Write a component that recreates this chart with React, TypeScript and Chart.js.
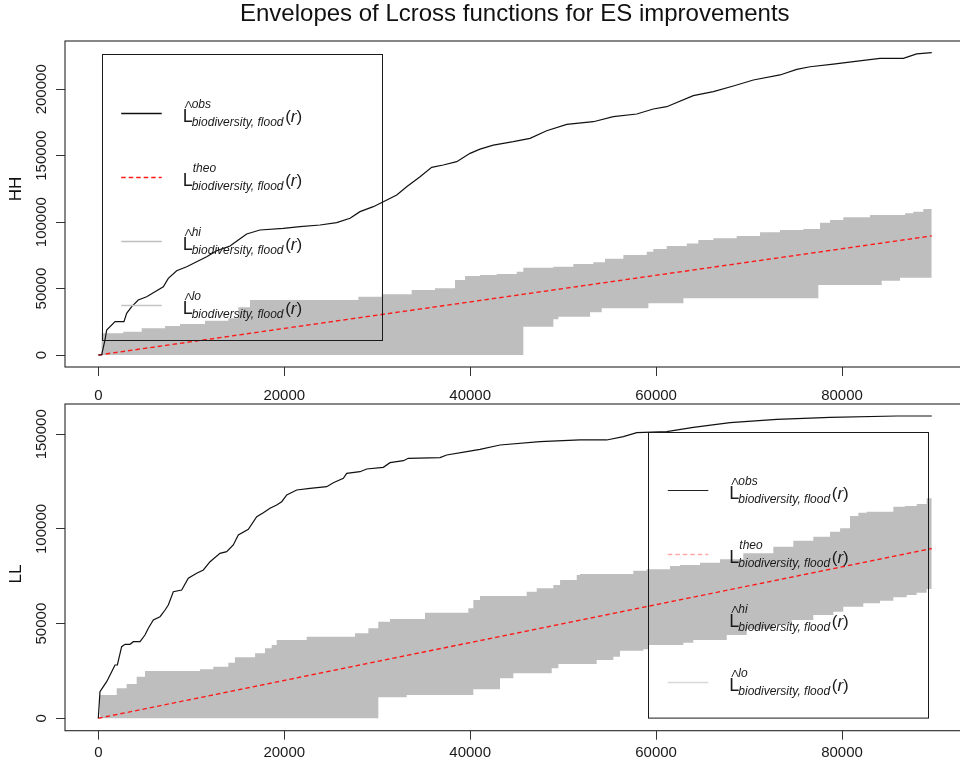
import React, { useEffect, useRef } from 'react';
import { Chart, registerables } from 'chart.js';

Chart.register(...registerables);

const FONT = '"Liberation Sans", Arial, Helvetica, sans-serif';

// ---------- text ----------
const TITLE = 'Envelopes of Lcross functions for ES improvements';
const LEGEND_SUPS = ['obs', 'theo', 'hi', 'lo'];
const LEGEND_HATS = [true, false, true, true];
const LEGEND_SUB = 'biodiversity, flood';

// ---------- ticks ----------
const xTicks = [0, 20000, 40000, 60000, 80000];
const hhYTicks = [0, 50000, 100000, 150000, 200000];
const llYTicks = [0, 50000, 100000, 150000];

// ---------- HH panel ----------
const hhObsR = [0, 360, 720, 900, 1800, 2760, 3050, 3590, 4300, 5200, 6100, 6990, 7530, 8430, 9510, 10580, 11660, 12730, 14170, 15060, 15960, 17390, 19900, 21700, 23850, 25640, 27080, 28150, 29580, 30660, 32100, 33170, 34610, 35860, 37110, 38550, 39990, 41060, 42490, 44640, 46440, 48230, 50390, 53250, 55400, 57920, 59700, 61140, 64000, 66160, 68310, 70460, 73330, 75130, 76560, 79070, 81220, 84090, 86600, 88030, 89650];
const hhObsL = [0, 0, 11300, 18800, 25070, 25070, 31350, 36360, 41400, 43880, 47650, 51400, 57700, 63450, 66470, 70230, 73990, 78500, 82050, 86560, 91080, 94090, 95340, 96600, 97850, 99600, 102900, 107900, 111660, 115400, 120440, 126700, 134200, 141300, 143000, 145500, 151800, 155000, 158000, 160600, 163100, 168800, 173600, 175600, 179400, 181400, 185200, 186900, 195200, 198200, 202500, 207000, 210800, 215000, 217000, 219000, 220800, 223300, 223300, 226600, 227600];
const hhTheoR = [0, 89650];
const hhTheoL = [0, 89650];
const hhHiR = [0, 360, 2690, 4670, 7180, 8790, 11480, 13990, 15060, 16320, 27970, 30490, 33710, 36220, 38370, 39450, 41060, 42850, 45010, 45720, 48950, 51100, 53250, 54500, 56480, 58990, 59700, 61140, 63300, 64540, 66160, 68670, 71180, 73330, 75840, 77630, 78710, 80140, 83010, 86780, 87670, 88750, 89650];
const hhHiL = [0, 16300, 17550, 20070, 21830, 23330, 25830, 27600, 35900, 41400, 43900, 45700, 48900, 50200, 56450, 59470, 60220, 60970, 62700, 65700, 66470, 68500, 69800, 72500, 75300, 77800, 79800, 82050, 84000, 86560, 87800, 89570, 92350, 94100, 94850, 99600, 101600, 103650, 105400, 106650, 107900, 109900, 109900];
const hhLoR = [0, 45720, 48950, 49490, 52900, 54150, 59170, 62940, 77450, 84270, 86240, 89650];
const hhLoL = [0, 21300, 26870, 28830, 32140, 35150, 38900, 42660, 52700, 55900, 58200, 58200];

// ---------- LL panel ----------
const llObsR = [0, 180, 540, 900, 1440, 1800, 2050, 2510, 2870, 3410, 3770, 4490, 5020, 5380, 5920, 6640, 7180, 7530, 8070, 8970, 9680, 10580, 11300, 12020, 13090, 13810, 14520, 15060, 16140, 17040, 17750, 18470, 19190, 19730, 20270, 21340, 22770, 24570, 25280, 26360, 26720, 28150, 28870, 30660, 31380, 32810, 33350, 36760, 37480, 39630, 41060, 43210, 47510, 51820, 54690, 56480, 57920, 61140, 64000, 67960, 72980, 78710, 85890, 89650];
const llObsL = [0, 14050, 16690, 19330, 24610, 28150, 28150, 37820, 39080, 39080, 40460, 40460, 44000, 47540, 51920, 53680, 57200, 59840, 66880, 67760, 73950, 76590, 78330, 82710, 87150, 88000, 91530, 96810, 99820, 106480, 108600, 110920, 112660, 114400, 117940, 120580, 121480, 122330, 124440, 126760, 129400, 130250, 131680, 132570, 135000, 136060, 137320, 137650, 139070, 140810, 142080, 144350, 146100, 147000, 147000, 148740, 150850, 151380, 153700, 156120, 157900, 158970, 159670, 159670];
const llTheoR = [0, 89650];
const llTheoL = [0, 89650];
const llHiR = [0, 180, 1980, 3050, 4130, 5020, 10940, 12370, 13990, 14700, 16860, 17930, 18650, 19190, 22420, 27610, 29050, 30120, 31380, 35140, 39800, 40340, 41060, 46080, 47160, 48950, 49670, 51460, 51820, 57550, 58990, 61500, 62570, 64720, 66880, 69380, 72610, 74760, 76910, 78710, 79790, 80860, 81760, 82660, 85520, 86780, 88030, 89110, 89650];
const llHiL = [0, 12310, 15850, 18120, 21970, 24980, 25880, 27250, 29370, 32200, 34330, 36970, 38720, 41360, 43120, 44890, 47540, 51050, 52450, 55800, 58100, 62480, 64600, 66870, 68660, 70400, 73050, 75690, 76220, 77980, 78700, 80440, 80970, 82200, 83980, 87150, 90640, 93800, 95920, 98560, 100340, 106850, 108600, 109120, 111760, 112130, 113190, 116200, 116200];
const llLoR = [0, 30120, 33170, 40340, 43210, 44640, 48770, 49490, 53610, 55400, 56120, 58630, 59170, 62930, 64000, 67600, 69750, 72610, 74590, 76910, 79070, 80140, 82290, 84090, 85520, 86960, 88030, 89110, 89650];
const llLoL = [0, 11090, 12310, 15320, 21130, 23770, 26410, 28680, 30790, 32540, 35710, 36440, 38720, 39930, 41360, 44000, 47170, 49650, 51920, 54560, 56300, 58940, 60740, 62110, 63910, 65120, 66340, 68290, 68290];

// ---------- helpers ----------
const pts = (rs: number[], ls: number[]) => rs.map((x, i) => ({ x, y: ls[i] }));

type Box = { x: number; y: number; w: number; h: number };

function drawLegend(ctx: CanvasRenderingContext2D, box: Box, colors: string[], widths: number[]) {
  ctx.save();
  ctx.setLineDash([]);
  ctx.strokeStyle = '#1a1a1a';
  ctx.lineWidth = 1;
  ctx.strokeRect(Math.round(box.x) + 0.5, Math.round(box.y) + 0.5, box.w, box.h);
  LEGEND_SUPS.forEach((sup, i) => {
    const L = box.x;
    const Y = Math.round(box.y + 58.5 + 64 * i) + 0.5;
    ctx.beginPath();
    ctx.setLineDash(i === 1 ? [4.5, 3] : []);
    ctx.strokeStyle = colors[i];
    ctx.lineWidth = widths[i];
    ctx.moveTo(L + 19.5, Y);
    ctx.lineTo(L + 60, Y);
    ctx.stroke();
    ctx.setLineDash([]);
    ctx.fillStyle = '#1a1a1a';
    ctx.textAlign = 'left';
    ctx.textBaseline = 'alphabetic';
    ctx.font = `18px ${FONT}`;
    ctx.fillText('L', L + 81, Y + 8);
    if (LEGEND_HATS[i]) {
      ctx.beginPath();
      ctx.strokeStyle = '#1a1a1a';
      ctx.lineWidth = 0.9;
      ctx.moveTo(L + 83.5, Y - 5.5);
      ctx.lineTo(L + 86.8, Y - 12.5);
      ctx.lineTo(L + 90, Y - 5.5);
      ctx.stroke();
    }
    ctx.font = `italic 12px ${FONT}`;
    ctx.fillText(sup, L + (LEGEND_HATS[i] ? 90 : 91), Y - 6);
    ctx.fillText(LEGEND_SUB, L + 90, Y + 12);
    let x = L + 183.5;
    ctx.font = `17px ${FONT}`;
    ctx.fillText('(', x, Y + 8);
    x += ctx.measureText('(').width;
    ctx.font = `italic 17px ${FONT}`;
    ctx.fillText('r', x, Y + 8);
    x += ctx.measureText('r').width;
    ctx.font = `17px ${FONT}`;
    ctx.fillText(')', x, Y + 8);
  });
  ctx.restore();
}

type Spec = {
  label: string;
  labelPos: [number, number];
  obsR: number[]; obsL: number[];
  theoR: number[]; theoL: number[];
  hiR: number[]; hiL: number[];
  loR: number[]; loL: number[];
  yMin: number; yMax: number; yTicks: number[];
  padTop: number; xAxisH: number; xLabelPad: number;
  legendBox: Box; legendColors: string[]; legendWidths: number[];
  showTitle: boolean;
};

const CANVAS_W = 975;
const X_MIN = -3582;
const X_MAX = 93184;
const RIGHT_PAD = 10.4;

function buildConfig(spec: Spec): any {
  const framePlugin = {
    id: 'frame',
    afterDraw(chart: any) {
      const { ctx, chartArea: a } = chart;
      ctx.save();
      ctx.strokeStyle = '#262626';
      ctx.lineWidth = 1.1;
      ctx.strokeRect(a.left, a.top, a.right - a.left, a.bottom - a.top);
      // panel axis title
      ctx.translate(spec.labelPos[0], spec.labelPos[1]);
      ctx.rotate(-Math.PI / 2);
      ctx.fillStyle = '#111';
      ctx.font = `17px ${FONT}`;
      ctx.textAlign = 'center';
      ctx.textBaseline = 'middle';
      ctx.fillText(spec.label, 0, 0);
      ctx.restore();
      drawLegend(ctx, spec.legendBox, spec.legendColors, spec.legendWidths);
    },
  };

  return {
    type: 'line',
    data: {
      datasets: [
        { label: 'obs', data: pts(spec.obsR, spec.obsL), borderColor: '#111', borderWidth: 1.2, pointRadius: 0, fill: false, tension: 0 },
        { label: 'theo', data: pts(spec.theoR, spec.theoL), borderColor: '#ff1a1a', borderWidth: 1.4, borderDash: [4.5, 3], pointRadius: 0, fill: false },
        { label: 'hi', data: pts(spec.hiR, spec.hiL), borderColor: 'rgba(0,0,0,0)', borderWidth: 0, backgroundColor: '#bebebe', fill: '+1', stepped: true, pointRadius: 0 },
        { label: 'lo', data: pts(spec.loR, spec.loL), borderColor: 'rgba(0,0,0,0)', borderWidth: 0, backgroundColor: '#bebebe', fill: false, stepped: true, pointRadius: 0 },
      ],
    },
    options: {
      responsive: false,
      animation: false,
      events: [],
      layout: { padding: { top: spec.padTop, left: 0, right: RIGHT_PAD, bottom: 0 } },
      scales: {
        x: {
          type: 'linear',
          min: X_MIN,
          max: X_MAX,
          bounds: 'data',
          afterBuildTicks: (s: any) => { s.ticks = xTicks.map((v) => ({ value: v })); },
          afterFit: (s: any) => { s.height = spec.xAxisH; s.paddingLeft = 0; s.paddingRight = 0; },
          grid: { display: true, drawOnChartArea: false, drawTicks: true, tickLength: 9, color: '#333', lineWidth: 1 },
          border: { display: false },
          ticks: {
            autoSkip: false, maxRotation: 0, minRotation: 0, padding: spec.xLabelPad,
            color: '#1a1a1a', font: { family: FONT, size: 15 },
            callback: (v: any) => String(v),
          },
        },
        y: {
          type: 'linear',
          min: spec.yMin,
          max: spec.yMax,
          bounds: 'data',
          afterBuildTicks: (s: any) => { s.ticks = spec.yTicks.map((v) => ({ value: v })); },
          afterFit: (s: any) => { s.width = 65; s.paddingTop = 0; s.paddingBottom = 0; },
          grid: { display: true, drawOnChartArea: false, drawTicks: true, tickLength: 9, color: '#333', lineWidth: 1 },
          border: { display: false },
          ticks: {
            autoSkip: false, minRotation: 90, maxRotation: 90, crossAlign: 'center', padding: -10.7,
            color: '#1a1a1a', font: { family: FONT, size: 15 },
            callback: (v: any) => String(v),
          },
        },
      },
      plugins: {
        legend: { display: false },
        tooltip: { enabled: false },
        title: {
          display: spec.showTitle,
          text: TITLE,
          color: '#111',
          position: 'top',
          align: 'center',
          fullSize: false,
          font: { family: FONT, size: 24, weight: 'normal', lineHeight: 1.2 },
          padding: { top: 0.2, bottom: 12 },
        },
      },
    },
    plugins: [framePlugin],
  };
}

const hhSpec: Spec = {
  label: 'HH', labelPos: [16.7, 189],
  obsR: hhObsR, obsL: hhObsL, theoR: hhTheoR, theoL: hhTheoL,
  hiR: hhHiR, hiL: hhHiL, loR: hhLoR, loL: hhLoL,
  yMin: -9030, yMax: 236360, yTicks: hhYTicks,
  padTop: 0, xAxisH: 35, xLabelPad: 11,
  legendBox: { x: 101.7, y: 54, w: 280, h: 286 },
  legendColors: ['#111', '#ff1a1a', '#bebebe', '#c4c4c4'],
  legendWidths: [1.4, 1.5, 1.5, 1.5],
  showTitle: true,
};

const llSpec: Spec = {
  label: 'LL', labelPos: [16, 172],
  obsR: llObsR, obsL: llObsL, theoR: llTheoR, theoL: llTheoL,
  hiR: llHiR, hiL: llHiL, loR: llLoR, loL: llLoL,
  yMin: -6550, yMax: 166000, yTicks: llYTicks,
  padTop: 2, xAxisH: 33.3, xLabelPad: 3.8,
  legendBox: { x: 648.3, y: 29.7, w: 280, h: 285.6 },
  legendColors: ['#222', 'rgba(255,0,0,0.35)', '#bebebe', '#d9d9d9'],
  legendWidths: [1.1, 1.3, 1.3, 1.3],
  showTitle: false,
};

function Panel({ spec, top, height }: { spec: Spec; top: number; height: number }) {
  const ref = useRef<HTMLCanvasElement | null>(null);
  useEffect(() => {
    if (!ref.current) return;
    const chart = new Chart(ref.current, buildConfig(spec));
    return () => chart.destroy();
  }, [spec]);
  return (
    <canvas
      ref={ref}
      width={CANVAS_W}
      height={height}
      style={{ position: 'absolute', left: 0, top, width: CANVAS_W, height }}
    />
  );
}

export default function App() {
  return (
    <div style={{ position: 'absolute', left: 0, top: 0, width: 960, height: 764, overflow: 'hidden', background: '#fff' }}>
      <Panel spec={hhSpec} top={0} height={402} />
      <Panel spec={llSpec} top={402} height={362} />
    </div>
  );
}
